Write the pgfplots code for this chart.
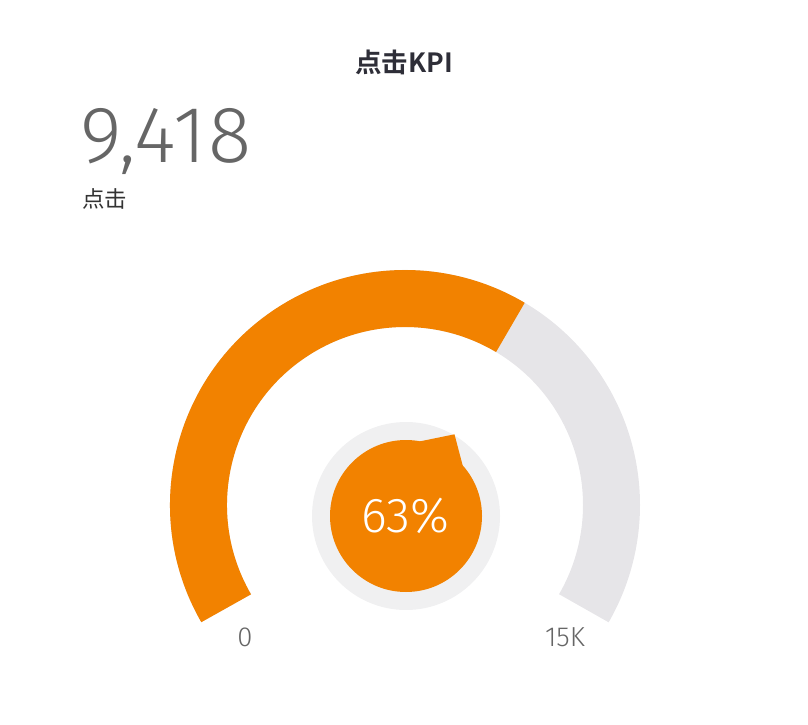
\documentclass[border=0pt]{standalone}
\usepackage{pgfplots}
\pgfplotsset{compat=1.18}
\usetikzlibrary{calc}
\usepackage{fontspec}
\setmainfont{Fira Sans Light}
\newfontfamily\cjk{Noto Sans CJK SC}
\newfontfamily\cjkbold{Noto Sans CJK SC Bold}
\definecolor{gaugeorange}{HTML}{F28200}
\definecolor{gaugegrey}{HTML}{E6E5E8}
\definecolor{ringgrey}{HTML}{F0F0F1}
\definecolor{numgrey}{HTML}{666666}
\definecolor{titledark}{HTML}{2E2E38}

% KPI value and target
\def\kpival{9418}
\def\kpimax{15000}

\begin{document}
\begin{tikzpicture}
\pgfmathsetmacro{\share}{\kpival/\kpimax}
\pgfmathsetmacro{\ang}{210-240*\share}
\pgfmathtruncatemacro{\pct}{round(100*\share)}
\begin{axis}[
    width=808pt, height=724pt, scale only axis,
    xmin=0, xmax=808, ymin=0, ymax=724,
    axis lines=none, clip=false]
  \path (axis cs:0,0) rectangle (axis cs:808,724);
  \path (axis cs:405,219) coordinate (g);
  \path (axis cs:406,208) coordinate (c);
  % track and value
  \draw[gaugegrey, line width=57pt] ($(g)+(210:206.5)$) arc[start angle=210, end angle=-30, radius=206.5];
  \draw[gaugeorange, line width=57pt] ($(g)+(210:206.5)$) arc[start angle=210, end angle=\ang, radius=206.5];
  % centre disc
  \fill[ringgrey] (c) circle[radius=94];
  \fill[gaugeorange] (c) circle[radius=76];
  \fill[gaugeorange] ($(c)+(\ang+20:76)$) -- ($(c)+(\ang:95)$) -- ($(c)+(\ang-17.5:76)$) -- (c) -- cycle;
  \node[white, font=\fontsize{49}{49}\selectfont] at (axis cs:405,208) {\pct\%};
  % labels
  \node[numgrey, font=\fontsize{27.5}{27.5}\selectfont] at (axis cs:245,87) {0};
  \node[numgrey, font=\fontsize{27.5}{27.5}\selectfont] at (axis cs:565,87) {15K};
  \node[titledark, font=\cjkbold\fontsize{26.5}{26.5}\selectfont] at (axis cs:404,662) {点击KPI};
  \node[numgrey, anchor=base west, inner sep=0pt, font=\fontsize{80}{80}\selectfont\addfontfeature{LetterSpace=2.5}] at (axis cs:80,561) {9,418};
  \node[black!80, anchor=base west, inner sep=0pt, font=\cjk\fontsize{22.5}{22.5}\selectfont] at (axis cs:82,516) {点击};
\end{axis}
\end{tikzpicture}
\end{document}
